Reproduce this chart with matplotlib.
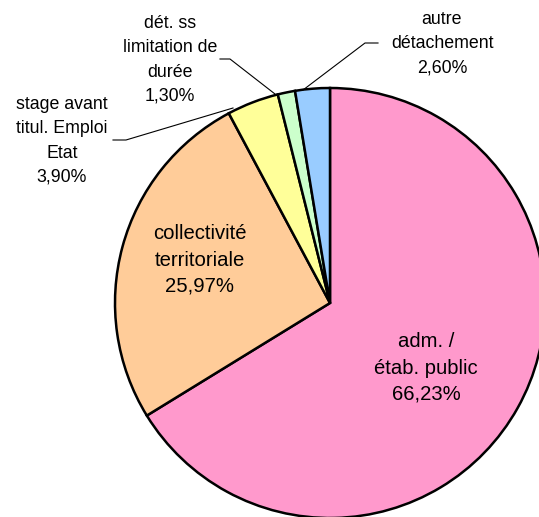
import matplotlib
matplotlib.use("Agg")
import matplotlib.pyplot as plt

plt.rcParams['font.family'] = ['Liberation Sans', 'DejaVu Sans']

labels = ["adm. /\nétab. public", "collectivité\nterritoriale", "stage avant\ntitul. Emploi\nEtat",
          "dét. ss\nlimitation de\ndurée", "autre\ndétachement"]
values = [66.23, 25.97, 3.90, 1.30, 2.60]
pct_text = ["66,23%", "25,97%", "3,90%", "1,30%", "2,60%"]
colors = ["#FF99CC", "#FFCC99", "#FFFF99", "#CCFFCC", "#99CCFF"]

W, H = 539, 517
fig = plt.figure(figsize=(W / 100, H / 100), dpi=100)
ax = fig.add_axes([0, 0, 1, 1])

cx, cy, r = 330, 303, 215

def P(x, y):
    return (x, H - y)

ax.pie(values, colors=colors, startangle=90, counterclock=False,
       center=P(cx, cy), radius=r,
       wedgeprops=dict(edgecolor="black", linewidth=1.8))
ax.set_xlim(0, W)
ax.set_ylim(0, H)
ax.set_aspect('auto')
ax.axis('off')

# label positions (pixel coords of text center), font sizes
label_pos = [(426, 368), (200, 260), (62, 141), (170, 60), (442, 44)]
label_fs = [14.6, 14.6, 12.8, 12.8, 12.8]
label_ls = [1.5, 1.5, 1.55, 1.55, 1.55]
for lab, pct, (x, y), fs, ls in zip(labels, pct_text, label_pos, label_fs, label_ls):
    ax.text(*P(x, y), lab + "\n" + pct, ha='center', va='center', fontsize=fs,
            multialignment='center', linespacing=ls, color='black')

# leader lines
leaders = [
    [(113, 140), (126, 140), (233, 108)],
    [(220, 59), (230, 59), (275, 94)],
    [(378, 43), (365, 43), (303, 90)],
]
for pts in leaders:
    xs = [p[0] for p in pts]
    ys = [H - p[1] for p in pts]
    ax.plot(xs, ys, color='black', linewidth=0.8)

fig.savefig("out.png", dpi=100)
